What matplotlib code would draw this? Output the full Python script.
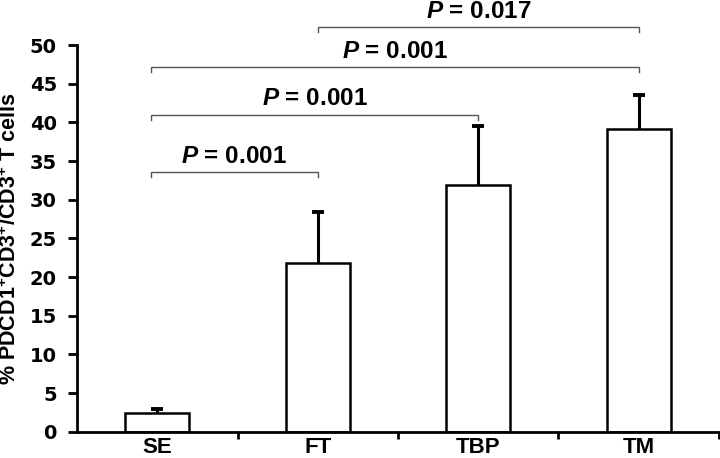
import numpy as np
import matplotlib
matplotlib.use("Agg")
import matplotlib.pyplot as plt

groups = ["SE", "FT", "TBP", "TM"]
means = [2.4, 21.8, 31.9, 39.1]
errs = [0.55, 6.6, 7.6, 4.5]

# comparisons: (left group, right group, bracket height, label)
comparisons = [
    (0, 1, 33.6, "0.001"),
    (0, 2, 41.0, "0.001"),
    (0, 3, 47.1, "0.001"),
    (1, 3, 52.3, "0.017"),
]
y_ticks = [0, 5, 10, 15, 20, 25, 30, 35, 40, 45, 50]

plt.rcParams['mathtext.fontset'] = 'custom'
plt.rcParams['mathtext.rm'] = 'Liberation Sans:bold'
plt.rcParams['mathtext.bf'] = 'Liberation Sans:bold'
plt.rcParams['mathtext.bfit'] = 'Liberation Sans:italic:bold'
plt.rcParams['mathtext.it'] = 'Liberation Sans:italic:bold'
plt.rcParams['mathtext.default'] = 'bf'

fig = plt.figure(figsize=(7.2, 4.58), dpi=100)
ax = fig.add_axes([0.107, 0.0574, 0.8915, 0.8443])

x = np.arange(len(groups))
tops = np.array(means) + np.array(errs)
# upper error bars only
ax.vlines(x, means, tops, color="black", linewidth=2.2, zorder=1)
ax.plot(x, tops, linestyle="none", marker="_", markersize=8, markeredgewidth=2.8,
        color="black", zorder=1)
ax.bar(x, means, width=0.4, color="white", edgecolor="black", linewidth=1.8, zorder=2)

ax.set_xlim(-0.5, 3.5)
ax.set_ylim(0, 50)
ax.set_yticks(y_ticks)
ax.set_yticklabels([str(t) for t in y_ticks], fontsize=14, fontweight="bold",
                   family="DejaVu Sans")
ax.set_xticks(x)
ax.set_xticklabels(groups, fontsize=16, fontweight="bold", family="Liberation Sans")
ax.set_xticks([0.5, 1.5, 2.5, 3.5], minor=True)
ax.tick_params(axis="x", which="major", length=0, pad=4)
ax.tick_params(axis="x", which="minor", length=5, width=2, direction="out")
ax.tick_params(axis="y", length=6.5, width=2, direction="out", pad=8)

for s in ["top", "right"]:
    ax.spines[s].set_visible(False)
for s in ["left", "bottom"]:
    ax.spines[s].set_linewidth(2)

ax.set_ylabel("% PDCD1$^{+}$CD3$^{+}$/CD3$^{+}$ T cells", fontsize=15.5,
              fontweight="bold", family="Liberation Sans")
ax.yaxis.set_label_coords(-0.088, 0.5)

# significance brackets
tick = 0.65
for a, b, h, p in comparisons:
    x0 = a - 0.04 if a == 0 else a
    x1 = b
    ax.plot([x0, x0, x1, x1], [h - tick, h, h, h - tick], color="#555555",
            linewidth=1.0, clip_on=False, solid_joinstyle="miter")
    ax.text((x0 + x1) / 2, h + 0.55, r"$\mathbfit{P}$ = " + p, ha="center", va="bottom",
            fontsize=17.5, fontweight="bold", family="Liberation Sans", clip_on=False)

fig.savefig("out.png", dpi=100)
